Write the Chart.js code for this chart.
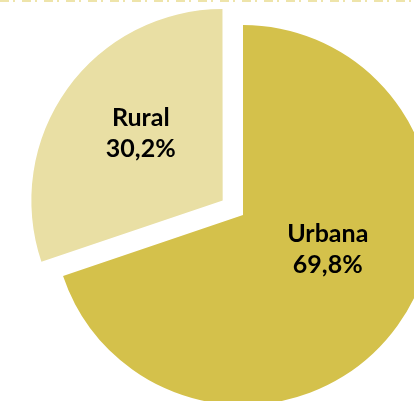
<!DOCTYPE html>
<html>
<head>
<meta charset="utf-8">
<script src="https://cdn.jsdelivr.net/npm/chart.js@4"></script>
<style>
  html, body { margin: 0; padding: 0; background: #fff; }
  #wrap { position: relative; width: 414px; height: 401px; }
</style>
</head>
<body>
<div id="wrap"><canvas id="pieChart"></canvas></div>
<script>
// données
const zones = ["Urbana", "Rural"];
const parts = [69.8, 30.2];
const couleurs = ["#D4C14B", "#E9DFA4"];
const decalages = [0, 100]; // Rural détachée

// position des étiquettes par rapport au centre de chaque part
const labelDist = [0.48, 0.56];
const labelShift = [-14, 4];

function formatPct(v) {
  return v.toFixed(1).replace(".", ",") + "%";
}

// ligne pointillée en haut
const topLine = {
  id: "topLine",
  beforeDraw(chart) {
    const ctx = chart.ctx;
    ctx.save();
    ctx.strokeStyle = "#EEE4AA";
    ctx.lineWidth = 2;
    ctx.setLineDash([9, 4, 2, 7]);
    ctx.beginPath();
    ctx.moveTo(0, 1);
    ctx.lineTo(chart.width, 1);
    ctx.stroke();
    ctx.restore();
  }
};

// étiquettes au milieu des parts
const sliceLabels = {
  id: "sliceLabels",
  afterDatasetsDraw(chart) {
    const ctx = chart.ctx;
    const meta = chart.getDatasetMeta(0);
    ctx.save();
    ctx.font = "bold 25px Lato, 'Open Sans', sans-serif";
    ctx.fillStyle = "#000";
    ctx.textAlign = "center";
    ctx.textBaseline = "middle";
    meta.data.forEach((arc, i) => {
      const p = arc.getProps(["x", "y", "startAngle", "endAngle", "outerRadius"], true);
      const mid = (p.startAngle + p.endAngle) / 2;
      const push = (arc.options.offset || 0) / 4;
      const a = mid + labelShift[i] * Math.PI / 180;
      const r = p.outerRadius * labelDist[i];
      const cx = p.x + Math.cos(mid) * push + Math.cos(a) * r;
      const cy = p.y + Math.sin(mid) * push + Math.sin(a) * r;
      ctx.fillText(zones[i], cx, cy - 15);
      ctx.fillText(formatPct(parts[i]), cx, cy + 16);
    });
    ctx.restore();
  }
};

new Chart(document.getElementById("pieChart"), {
  type: "pie",
  data: {
    labels: zones,
    datasets: [{
      data: parts,
      backgroundColor: couleurs,
      borderWidth: 0,
      offset: decalages,
      hoverOffset: 0,
      clip: false
    }]
  },
  options: {
    responsive: true,
    maintainAspectRatio: false,
    animation: false,
    radius: 190,
    layout: { padding: { left: 72, right: 0, top: 29, bottom: 0 } },
    plugins: {
      legend: { display: false },
      tooltip: { enabled: false }
    }
  },
  plugins: [topLine, sliceLabels]
});
</script>
</body>
</html>
